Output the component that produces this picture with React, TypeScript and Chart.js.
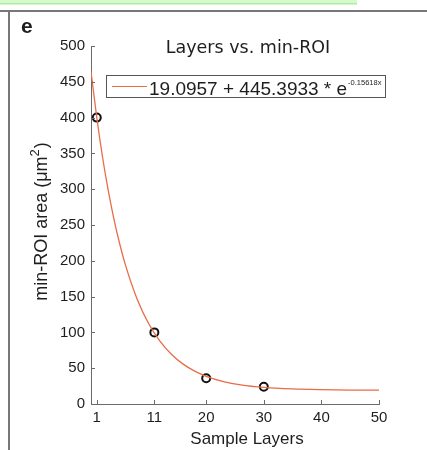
import React, { useEffect, useRef } from "react";
import { Chart, registerables } from "chart.js";

Chart.register(...registerables);

// Measured sample points
const sampleLayers = [1, 11, 20, 30];
const minRoiArea = [400, 100, 36, 24];

// Fitted curve
const curveX = [0, 1, 2, 3, 4, 5, 6, 8, 10, 12, 14, 16, 18, 20, 23, 26, 30, 35, 40, 45, 50];
const curveY = [464.5, 400.1, 345.0, 297.9, 257.6, 223.1, 193.6, 146.8, 112.5, 87.5, 69.1, 55.7, 45.9, 38.7, 31.4, 26.8, 23.2, 21.0, 20.0, 19.5, 19.3];

const xTicks = [1, 11, 20, 30, 40, 50];
const titleText = "Layers vs. min-ROI";
const xLabel = "Sample Layers";
const yLabelMain = "min-ROI area (\u03bcm";
const yLabelSup = "2";
const yLabelEnd = ")";
const legendMain = "19.0957 + 445.3933 * e";
const legendSup = "-0.15618x";
const panelLetter = "e";

const CURVE_COLOR = "rgb(232,108,72)";
const AXIS_COLOR = "#6a6a6a";
const TEXT_COLOR = "#1e1e1e";
const ARIAL = "'Liberation Sans', Arial, sans-serif";

export default function App() {
  const ref = useRef<HTMLCanvasElement | null>(null);

  useEffect(() => {
    const canvas = ref.current;
    if (!canvas) return;

    const decor = {
      id: "decor",
      beforeDraw(chart: any) {
        const ctx = chart.ctx;
        ctx.save();
        ctx.fillStyle = "#fff";
        ctx.fillRect(0, 0, chart.width, chart.height);
        // green strip
        ctx.fillStyle = "#d8f8d0";
        ctx.fillRect(0, 0, 357, 4);
        ctx.fillStyle = "#a6f29a";
        ctx.fillRect(0, 3, 357, 1.5);
        // frame lines
        ctx.fillStyle = "#777";
        ctx.fillRect(0, 10, chart.width, 2);
        ctx.fillRect(8, 10, 2, chart.height - 10);
        ctx.restore();
      },
      afterDraw(chart: any) {
        const ctx = chart.ctx;
        const xs = chart.scales.x;
        const ys = chart.scales.y;
        const area = chart.chartArea;
        ctx.save();
        // inward ticks
        ctx.strokeStyle = AXIS_COLOR;
        ctx.lineWidth = 1;
        ctx.beginPath();
        ys.ticks.forEach((t: any) => {
          const py = Math.round(ys.getPixelForValue(t.value)) + 0.5;
          ctx.moveTo(area.left, py);
          ctx.lineTo(area.left + 4, py);
        });
        xs.ticks.forEach((t: any) => {
          const px = Math.round(xs.getPixelForValue(t.value)) + 0.5;
          ctx.moveTo(px, area.bottom);
          ctx.lineTo(px, area.bottom - 4);
        });
        ctx.stroke();

        ctx.fillStyle = TEXT_COLOR;
        // panel letter
        ctx.font = "bold 21px " + ARIAL;
        ctx.textAlign = "left";
        ctx.textBaseline = "alphabetic";
        ctx.fillText(panelLetter, 21, 33);

        // title
        ctx.font = "17.5px 'DejaVu Sans', Verdana, sans-serif";
        ctx.textAlign = "center";
        ctx.fillText(titleText, 248, 53);

        // x label
        ctx.font = "17px " + ARIAL;
        ctx.textAlign = "center";
        ctx.fillText(xLabel, 247, 444);

        // y label (rotated, with superscript)
        ctx.save();
        ctx.translate(47, 222);
        ctx.rotate(-Math.PI / 2);
        ctx.font = "18px " + ARIAL;
        const w1 = ctx.measureText(yLabelMain).width;
        ctx.font = "13px " + ARIAL;
        const w2 = ctx.measureText(yLabelSup).width;
        ctx.font = "18px " + ARIAL;
        const w3 = ctx.measureText(yLabelEnd).width;
        let sx = -(w1 + w2 + w3) / 2;
        ctx.textAlign = "left";
        ctx.fillText(yLabelMain, sx, 0);
        sx += w1;
        ctx.font = "13px " + ARIAL;
        ctx.fillText(yLabelSup, sx, -8);
        sx += w2 + 1;
        ctx.font = "18px " + ARIAL;
        ctx.fillText(yLabelEnd, sx, 0);
        ctx.restore();

        // legend box
        ctx.fillStyle = "#fff";
        ctx.fillRect(106, 75, 279, 22);
        ctx.strokeStyle = "#555";
        ctx.lineWidth = 1;
        ctx.strokeRect(106.5, 75.5, 279, 22);
        ctx.strokeStyle = CURVE_COLOR;
        ctx.beginPath();
        ctx.moveTo(112, 86.5);
        ctx.lineTo(147, 86.5);
        ctx.stroke();
        ctx.fillStyle = TEXT_COLOR;
        ctx.font = "19px " + ARIAL;
        ctx.textAlign = "left";
        ctx.fillText(legendMain, 149, 95);
        const lw = ctx.measureText(legendMain).width;
        ctx.font = "7.5px " + ARIAL;
        ctx.fillText(legendSup, 149 + lw + 1, 85);
        ctx.restore();
      },
    };

    const chart = new Chart(canvas, {
      type: "scatter",
      data: {
        datasets: [
          {
            data: curveX.map((x, i) => ({ x, y: curveY[i] })),
            showLine: true,
            borderColor: CURVE_COLOR,
            borderWidth: 1.3,
            pointRadius: 0,
            cubicInterpolationMode: "monotone",
            fill: false,
          },
          {
            data: sampleLayers.map((x, i) => ({ x, y: minRoiArea[i] })),
            showLine: false,
            pointRadius: 4,
            pointBorderWidth: 2,
            pointBorderColor: "#111",
            pointBackgroundColor: "rgba(0,0,0,0)",
            borderColor: "#111",
            backgroundColor: "rgba(0,0,0,0)",
          },
        ],
      },
      options: {
        animation: false,
        responsive: false,
        devicePixelRatio: 1,
        layout: { padding: { left: 0, top: 46, right: 48, bottom: 0 } },
        plugins: {
          legend: { display: false },
          title: { display: false },
          tooltip: { enabled: false },
        },
        scales: {
          x: {
            type: "linear",
            min: 0,
            max: 50,
            afterBuildTicks: (scale: any) => {
              scale.ticks = xTicks.map((v) => ({ value: v }));
            },
            afterFit: (scale: any) => {
              scale.height = 46;
            },
            grid: { display: false, drawTicks: false },
            border: { display: true, color: AXIS_COLOR, width: 1 },
            ticks: {
              color: TEXT_COLOR,
              font: { family: ARIAL, size: 15 },
              padding: 5,
              maxRotation: 0,
              autoSkip: false,
            },
          },
          y: {
            type: "linear",
            min: 0,
            max: 500,
            afterFit: (scale: any) => {
              scale.width = 91;
            },
            grid: { display: false, drawTicks: false },
            border: { display: true, color: AXIS_COLOR, width: 1 },
            ticks: {
              stepSize: 50,
              color: TEXT_COLOR,
              font: { family: ARIAL, size: 15 },
              padding: 6,
            },
          },
        },
      },
      plugins: [decor],
    } as any);

    return () => chart.destroy();
  }, []);

  return (
    <div style={{ position: "fixed", left: 0, top: 0, width: 427, height: 450, background: "#fff" }}>
      <canvas ref={ref} width={427} height={450} style={{ width: 427, height: 450, display: "block" }} />
    </div>
  );
}
